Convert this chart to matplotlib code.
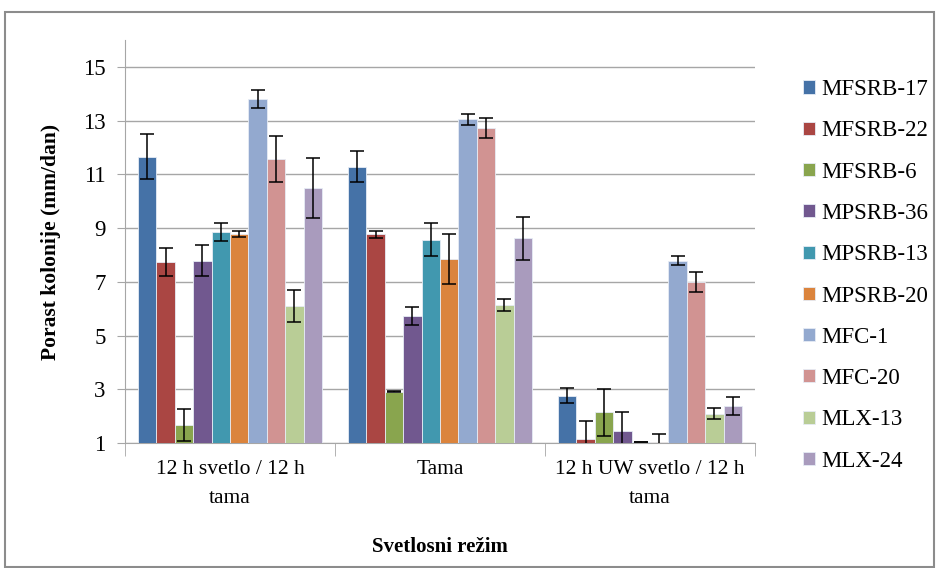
import numpy as np
import matplotlib
matplotlib.use("Agg")
import matplotlib.pyplot as plt
from matplotlib.patches import Rectangle

plt.rcParams['font.family'] = ['Liberation Serif', 'DejaVu Serif']

# Categories (light regimes) and strains
categories = ['12 h svetlo / 12 h\ntama', 'Tama', '12 h UW svetlo / 12 h\ntama']
strains = ['MFSRB-17', 'MFSRB-22', 'MFSRB-6', 'MPSRB-36', 'MPSRB-13',
           'MPSRB-20', 'MFC-1', 'MFC-20', 'MLX-13', 'MLX-24']
colors = ['#4572A7', '#AA4643', '#89A54E', '#71588F', '#4198AF',
          '#DB843D', '#93A9CF', '#D19392', '#B9CD96', '#A99BBD']

# mean growth (mm/dan) per strain, one value per category
mfsrb_17 = [11.66, 11.29, 2.75]
mfsrb_22 = [7.74, 8.77, 1.15]
mfsrb_6 = [1.67, 2.90, 2.14]
mpsrb_36 = [7.79, 5.73, 1.43]
mpsrb_13 = [8.86, 8.57, 1.03]
mpsrb_20 = [8.77, 7.84, 1.03]
mfc_1 = [13.81, 13.05, 7.79]
mfc_20 = [11.56, 12.73, 7.00]
mlx_13 = [6.10, 6.15, 2.09]
mlx_24 = [10.49, 8.62, 2.38]

# error bar half-widths
err_mfsrb_17 = [0.84, 0.58, 0.28]
err_mfsrb_22 = [0.52, 0.13, 0.65]
err_mfsrb_6 = [0.58, 0.02, 0.87]
err_mpsrb_36 = [0.58, 0.33, 0.73]
err_mpsrb_13 = [0.33, 0.60, 0.0]
err_mpsrb_20 = [0.12, 0.93, 0.30]
err_mfc_1 = [0.33, 0.20, 0.17]
err_mfc_20 = [0.86, 0.38, 0.37]
err_mlx_13 = [0.58, 0.22, 0.21]
err_mlx_24 = [1.11, 0.80, 0.35]

means = [mfsrb_17, mfsrb_22, mfsrb_6, mpsrb_36, mpsrb_13,
         mpsrb_20, mfc_1, mfc_20, mlx_13, mlx_24]
errors = [err_mfsrb_17, err_mfsrb_22, err_mfsrb_6, err_mpsrb_36, err_mpsrb_13,
          err_mpsrb_20, err_mfc_1, err_mfc_20, err_mlx_13, err_mlx_24]

fig = plt.figure(figsize=(9.36, 5.68), dpi=100)
ax = fig.add_axes([0.1335, 0.2201, 0.6731, 0.7095])

# outer chart frame
fig.patches.append(Rectangle((5 / 936, 1 / 568), 929 / 936, 555 / 568,
                             transform=fig.transFigure, fill=False,
                             edgecolor='#8c8c8c', linewidth=1.5))

x = np.arange(len(categories))
bw = 0.0876
base = 1.0
for i, (name, vals, errs) in enumerate(zip(strains, means, errors)):
    pos = x - 5 * bw + (i + 0.5) * bw
    heights = [v - base for v in vals]
    ax.bar(pos, heights, bw, bottom=base, color=colors[i], label=name,
           edgecolor='#e6ecf5', linewidth=0.6, zorder=3)
    ax.errorbar(pos, vals, yerr=errs, fmt='none', ecolor='black',
                elinewidth=1.1, capsize=5, capthick=1.1, zorder=4)

ax.set_xlim(-0.5, 2.5)
ax.set_ylim(1, 16)
ax.set_yticks([1, 3, 5, 7, 9, 11, 13, 15])
ax.yaxis.grid(True, color='#a6a6a6', linewidth=1.0, zorder=0)
ax.set_axisbelow(True)

ax.set_xticks(x)
ax.set_xticklabels(categories, fontsize=15.5, linespacing=1.75)
ax.tick_params(axis='x', length=0, pad=12)
ax.set_xticks([-0.5, 0.5, 1.5, 2.5], minor=True)
ax.tick_params(axis='x', which='minor', length=9, color='#a6a6a6', direction='out')
ax.tick_params(axis='y', labelsize=16.5, length=6, color='#a6a6a6', pad=8)

for side in ['top', 'right']:
    ax.spines[side].set_visible(False)
for side in ['left', 'bottom']:
    ax.spines[side].set_color('#a6a6a6')

ax.set_ylabel('Porast kolonije (mm/dan)', fontsize=15.5, fontweight='bold', labelpad=16)
ax.set_xlabel('Svetlosni režim', fontsize=15, fontweight='bold', labelpad=21)

leg = fig.legend(loc='upper left', bbox_to_anchor=(0.836, 0.897), frameon=False,
                 fontsize=16.5, handlelength=0.5, handleheight=0.5,
                 handletextpad=0.3, labelspacing=0.885)

fig.savefig('out.png', dpi=100)
